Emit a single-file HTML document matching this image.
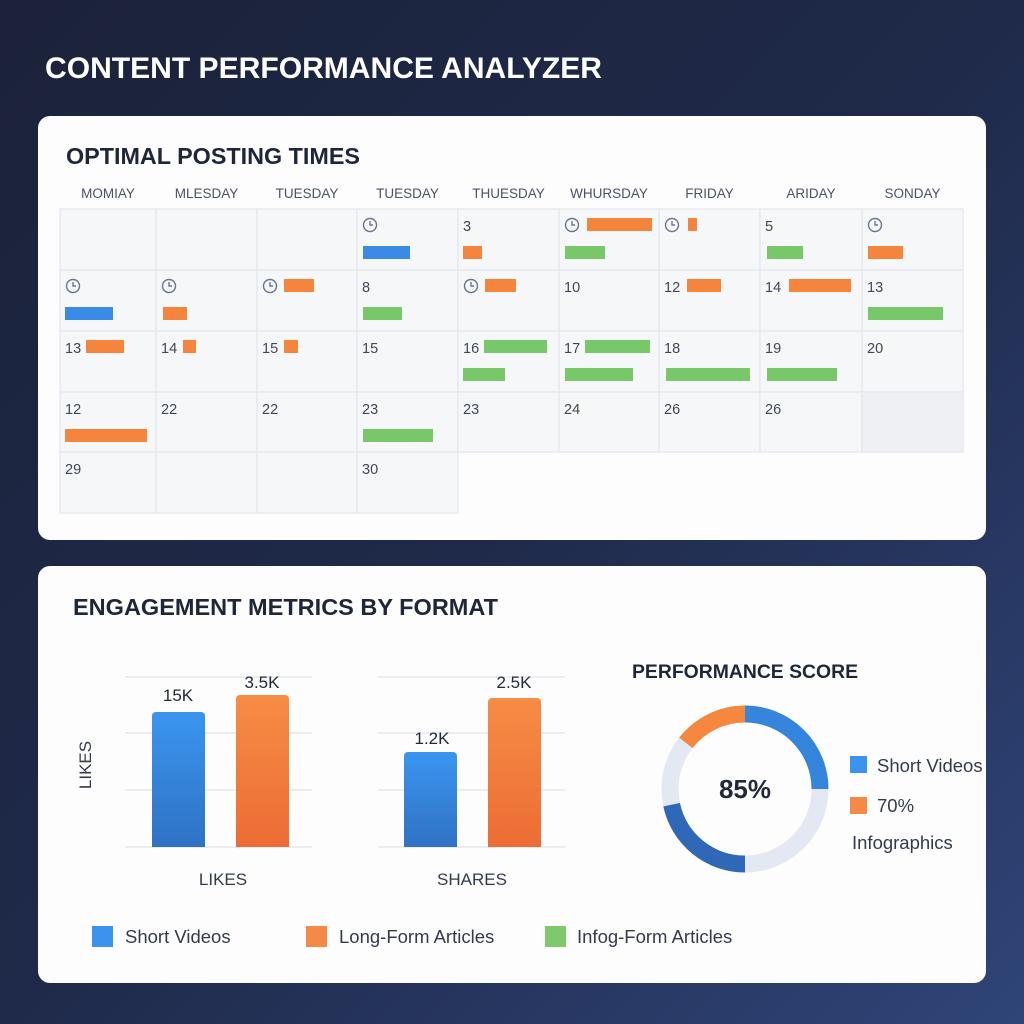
<!DOCTYPE html>
<html><head><meta charset="utf-8"><style>
html,body{margin:0;padding:0;width:1024px;height:1024px;overflow:hidden}
body{background:linear-gradient(135deg,#1b2239 0%,#1f2a4a 50%,#2f4478 100%);font-family:"Liberation Sans",sans-serif}
svg{position:absolute;left:0;top:0}
</style></head><body>
<svg id="s" width="1024" height="1024" viewBox="0 0 1024 1024" font-family="Liberation Sans, sans-serif">
<defs>
<linearGradient id="gb" x1="0" y1="0" x2="0" y2="1"><stop offset="0" stop-color="#3a95f0"/><stop offset="1" stop-color="#2f72c4"/></linearGradient>
<linearGradient id="go" x1="0" y1="0" x2="0" y2="1"><stop offset="0" stop-color="#f78c45"/><stop offset="1" stop-color="#ec6c35"/></linearGradient>
</defs>
<text x="45" y="78" fill="#fff" font-size="30" font-weight="bold" textLength="557" lengthAdjust="spacingAndGlyphs">CONTENT PERFORMANCE ANALYZER</text>
<rect x="38" y="116" width="948" height="424" rx="12" fill="#fdfdfe"/>
<text x="66" y="164" fill="#1e2638" font-size="23" font-weight="bold" textLength="294" lengthAdjust="spacingAndGlyphs">OPTIMAL POSTING TIMES</text>
<g id="cal"></g>
<rect x="38" y="566" width="948" height="417" rx="12" fill="#fdfdfe"/>
<text x="73" y="615" fill="#1e2638" font-size="23" font-weight="bold" textLength="425" lengthAdjust="spacingAndGlyphs">ENGAGEMENT METRICS BY FORMAT</text>
<g stroke="#e3e7ee" stroke-width="1.5">
<line x1="125" y1="677" x2="312" y2="677"/><line x1="125" y1="733" x2="312" y2="733"/><line x1="125" y1="790" x2="312" y2="790"/><line x1="125" y1="847" x2="312" y2="847"/>
<line x1="378" y1="677" x2="565" y2="677"/><line x1="378" y1="733" x2="565" y2="733"/><line x1="378" y1="790" x2="565" y2="790"/><line x1="378" y1="847" x2="565" y2="847"/>
</g>
<path d="M152 847V716a4 4 0 0 1 4-4h45a4 4 0 0 1 4 4V847z" fill="url(#gb)"/>
<path d="M236 847V699a4 4 0 0 1 4-4h45a4 4 0 0 1 4 4V847z" fill="url(#go)"/>
<path d="M404 847V756a4 4 0 0 1 4-4h45a4 4 0 0 1 4 4V847z" fill="url(#gb)"/>
<path d="M488 847V702a4 4 0 0 1 4-4h45a4 4 0 0 1 4 4V847z" fill="url(#go)"/>
<g fill="#222a3a" font-size="17" text-anchor="middle">
<text x="178" y="701">15K</text><text x="262" y="688">3.5K</text>
<text x="432" y="744">1.2K</text><text x="514" y="688">2.5K</text>
<text x="223" y="885" fill="#333b4b">LIKES</text><text x="472" y="885" fill="#333b4b">SHARES</text>
<text transform="translate(91,765) rotate(-90)" fill="#333b4b">LIKES</text>
</g>
<rect x="92" y="926" width="21" height="21" fill="#3b93ef"/><text x="125" y="943" font-size="18.5" fill="#333b4b">Short Videos</text>
<rect x="306" y="926" width="21" height="21" fill="#f48a45"/><text x="339" y="943" font-size="18.5" fill="#333b4b">Long-Form Articles</text>
<rect x="545" y="926" width="21" height="21" fill="#7dc96b"/><text x="577" y="943" font-size="18.5" fill="#333b4b">Infog-Form Articles</text>
<text x="632" y="678" fill="#1e2638" font-size="19" font-weight="bold" textLength="226" lengthAdjust="spacingAndGlyphs">PERFORMANCE SCORE</text>
<g id="donut" fill="none" stroke-width="17"></g>
<text x="745" y="798" text-anchor="middle" font-size="26" font-weight="bold" fill="#222a3a">85%</text>
<rect x="850" y="756" width="17" height="17" fill="#3b93ef"/><text x="877" y="772" font-size="18.5" fill="#333b4b">Short Videos</text>
<rect x="850" y="797" width="17" height="17" fill="#f48a45"/><text x="877" y="812" font-size="18.5" fill="#333b4b">70%</text>
<text x="852" y="849" font-size="18.5" fill="#333b4b">Infographics</text>
</svg>
<script>
var NS="http://www.w3.org/2000/svg",cal=document.getElementById("cal");
function el(t,a,txt){var e=document.createElementNS(NS,t);for(var k in a)e.setAttribute(k,a[k]);if(txt)e.textContent=txt;cal.appendChild(e);return e;}
var cx=[60,156,257,357,458,559,659,760,862,963],ry=[209,270,331,392,452,513];
var days=["MOMIAY","MLESDAY","TUESDAY","TUESDAY","THUESDAY","WHURSDAY","FRIDAY","ARIDAY","SONDAY"];
for(var i=0;i<9;i++)el("text",{x:(cx[i]+cx[i+1])/2,y:198,"text-anchor":"middle","font-size":"13.5",fill:"#4a5264"},days[i]);
for(var r=0;r<5;r++)for(var c=0;c<9;c++){if(r==4&&c>3)continue;
 el("rect",{x:cx[c],y:ry[r],width:cx[c+1]-cx[c],height:ry[r+1]-ry[r],fill:(r==3&&c==8)?"#eef0f4":"#f6f7f9",stroke:"#e5e8ee","stroke-width":"1.3"});}
var nums=[["","","","C","3","C","C","5","C"],["C","C","C","8","C","10","12","14","13"],["13","14","15","15","16","17","18","19","20"],["12","22","22","23","23","24","26","26",""],["29","","","30"]];
for(var r=0;r<5;r++)for(var c=0;c<nums[r].length;c++){var v=nums[r][c],x=cx[c]+6,y=ry[r]+17;
 if(v=="C"){el("circle",{cx:x+7,cy:y-1,r:6.5,fill:"none",stroke:"#6a7590","stroke-width":"1.4"});el("path",{d:"M"+(x+7)+" "+(y-5)+"v4h3",fill:"none",stroke:"#6a7590","stroke-width":"1.4"});}
 else if(v)el("text",{x:x-1,y:y+5,"font-size":"14.5",fill:"#3f4759"},v);}
var B="#3a8be6",O="#f5843d",G="#78c86a";
var bars=[[363,410,246,B],[463,482,246,O],[587,652,218,O],[565,605,246,G],[688,697,218,O],[767,803,246,G],[868,903,246,O],
[65,113,307,B],[163,187,307,O],[284,314,279,O],[363,402,307,G],[485,516,279,O],[687,721,279,O],[789,851,279,O],[868,943,307,G],
[86,124,340,O],[183,196,340,O],[284,298,340,O],[484,547,340,G],[463,505,368,G],[585,650,340,G],[565,633,368,G],[666,750,368,G],[767,837,368,G],
[65,147,429,O],[363,433,429,G]];
bars.forEach(function(b){el("rect",{x:b[0],y:b[2],width:b[1]-b[0],height:13,fill:b[3]});});
var d=document.getElementById("donut"),R=75,X=745,Y=789;
function arc(a0,a1,col){var p=function(a){a=(a-90)*Math.PI/180;return (X+R*Math.cos(a)).toFixed(1)+" "+(Y+R*Math.sin(a)).toFixed(1);};
 var e=document.createElementNS(NS,"path");e.setAttribute("d","M"+p(a0)+"A"+R+" "+R+" 0 "+((a1-a0)>180?1:0)+" 1 "+p(a1));e.setAttribute("stroke",col);d.appendChild(e);}
arc(0,90,"#3585dc");arc(90,180,"#e3e8f2");arc(180,258,"#3068b8");arc(258,308,"#e3e8f2");arc(308,360,"#f5873f");
</script>
</body></html>
